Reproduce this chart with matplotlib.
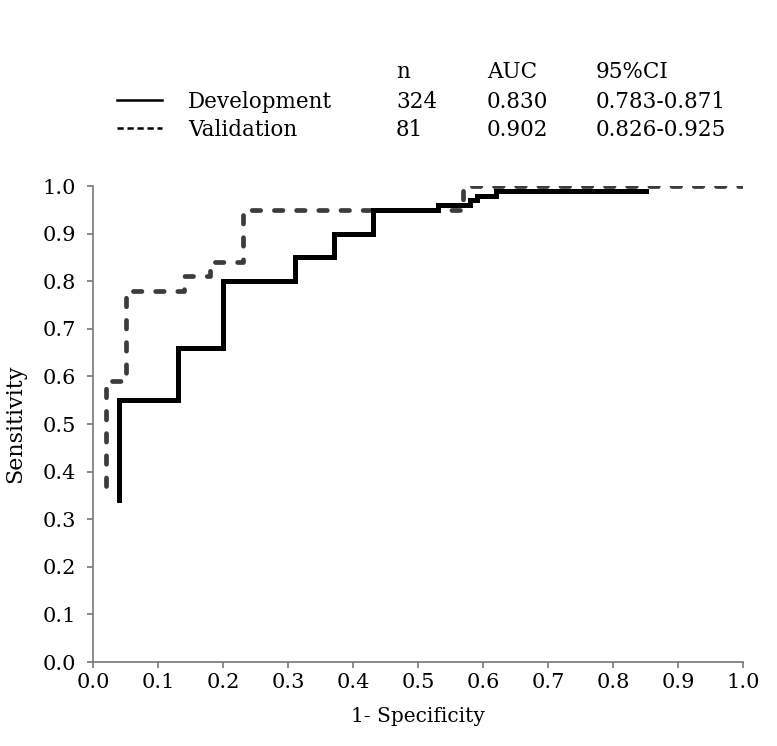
import matplotlib
matplotlib.use("Agg")
import matplotlib.pyplot as plt
from matplotlib.lines import Line2D

# ROC step points
dev_fpr = [0.04, 0.04, 0.13, 0.13, 0.20, 0.20, 0.31, 0.31, 0.37, 0.37, 0.43, 0.43,
           0.53, 0.53, 0.58, 0.58, 0.59, 0.59, 0.62, 0.62, 0.85]
dev_tpr = [0.34, 0.55, 0.55, 0.66, 0.66, 0.80, 0.80, 0.85, 0.85, 0.90, 0.90, 0.95,
           0.95, 0.96, 0.96, 0.97, 0.97, 0.98, 0.98, 0.99, 0.99]
val_fpr = [0.02, 0.02, 0.05, 0.05, 0.14, 0.14, 0.18, 0.18, 0.23, 0.23, 0.57, 0.57, 1.0]
val_tpr = [0.37, 0.59, 0.59, 0.78, 0.78, 0.81, 0.81, 0.84, 0.84, 0.95, 0.95, 1.0, 1.0]

names = ["Development", "Validation"]
n_vals = ["324", "81"]
auc_vals = ["0.830", "0.902"]
ci_vals = ["0.783-0.871", "0.826-0.925"]
ticks = [0.0, 0.1, 0.2, 0.3, 0.4, 0.5, 0.6, 0.7, 0.8, 0.9, 1.0]

plt.rcParams['font.family'] = ['DejaVu Serif']

W, H = 777, 746
fig = plt.figure(figsize=(W / 100, H / 100), dpi=100)
ax = fig.add_axes([93 / W, 1 - 662 / H, 650 / W, 476 / H])

ax.plot(val_fpr, val_tpr, color="#3c3c3c", lw=3.4, linestyle=(0, (1.8, 2.9)),
        dash_capstyle="round")
ax.plot(dev_fpr, dev_tpr, color="black", lw=3.6, solid_joinstyle="miter")

ax.set_xlim(0, 1)
ax.set_ylim(0, 1)
ax.set_xticks(ticks)
ax.set_yticks(ticks)
ax.set_xticklabels([f"{t:.1f}" for t in ticks], fontsize=15)
ax.set_yticklabels([f"{t:.1f}" for t in ticks], fontsize=15)
for side in ["top", "right"]:
    ax.spines[side].set_visible(False)
for side in ["left", "bottom"]:
    ax.spines[side].set_color("#777777")
    ax.spines[side].set_linewidth(1.2)
ax.tick_params(length=4, width=1.2, color="#777777")
ax.tick_params(axis="y", pad=8)
ax.tick_params(axis="x", pad=4)
ax.set_xlabel("1- Specificity", fontsize=14.5, labelpad=11)
ax.set_ylabel("Sensitivity", fontsize=16, labelpad=12)

# legend drawn as a small table above the plot
def fx(px):
    return px / W

def fy(py):
    return 1 - py / H

fs = 15.5
fig.text(fx(396), fy(72), "n", fontsize=fs, va="center")
fig.text(fx(487), fy(72), "AUC", fontsize=fs, va="center")
fig.text(fx(596), fy(72), "95%CI", fontsize=fs, va="center")
row_y = [102, 130]
styles = ["-", (0, (2.5, 1.5))]
for i in range(2):
    fig.add_artist(Line2D([fx(117), fx(162)], [fy(row_y[i] - 2)] * 2, color="black",
                          lw=1.8, linestyle=styles[i]))
    fig.text(fx(188), fy(row_y[i]), names[i], fontsize=fs, va="center")
    fig.text(fx(396), fy(row_y[i]), n_vals[i], fontsize=fs, va="center")
    fig.text(fx(487), fy(row_y[i]), auc_vals[i], fontsize=fs, va="center")
    fig.text(fx(596), fy(row_y[i]), ci_vals[i], fontsize=fs, va="center")

fig.savefig("out.png", dpi=100)
